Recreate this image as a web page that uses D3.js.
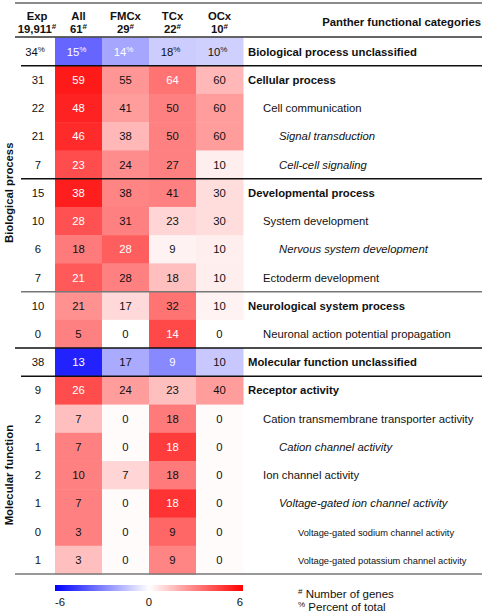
<!DOCTYPE html>
<html><head><meta charset="utf-8">
<script src="https://cdn.jsdelivr.net/npm/d3@7"></script>
<style>
html,body{margin:0;padding:0;background:#fff;}
svg{display:block;font-family:"Liberation Sans",Arial,Helvetica,sans-serif;}
</style></head>
<body>
<svg id="chart" width="484" height="612"></svg>
<script>
// ---------- data ----------
const categories = ["Biological process unclassified","Cellular process","Cell communication","Signal transduction","Cell-cell signaling","Developmental process","System development","Nervous system development","Ectoderm development","Neurological system process","Neuronal action potential propagation","Molecular function unclassified","Receptor activity","Cation transmembrane transporter activity","Cation channel activity","Ion channel activity","Voltage-gated ion channel activity","Voltage-gated sodium channel activity","Voltage-gated potassium channel activity"];
const levels = [0,0,1,2,2,0,1,2,1,0,1,0,0,1,2,1,2,3,3];
const groups = ["All","FMCx","TCx","OCx"];
const geneCounts = {Exp:"19,911", All:"61", FMCx:"29", TCx:"22", OCx:"10"};
const expPct  = [34,31,22,21,7,15,10,6,7,10,0,38,9,2,1,2,1,0,1];
const allPct  = [15,59,48,46,23,38,28,18,21,21,5,13,26,7,7,10,7,3,3];
const fmcxPct = [14,55,41,38,24,38,31,28,28,17,0,17,24,0,0,7,0,0,0];
const tcxPct  = [18,64,50,50,27,41,23,9,18,32,14,9,23,18,18,18,18,9,9];
const ocxPct  = [10,60,60,60,10,30,30,10,10,10,0,10,40,0,0,0,0,0,0];
// enrichment score shown by colour
const allScore  = [-3.6,5.4,5.2,5.0,4.2,5.3,4.1,3.1,3.9,2.6,3.0,-5.2,4.2,1.5,3.0,3.0,3.0,3.0,1.5];
const fmcxScore = [-2.1,2.5,2.3,1.7,2.7,2.9,3.0,3.8,3.0,0.9,0,-2.0,2.3,0.1,0.1,1.0,0.1,0.1,0.1];
const tcxScore  = [-1.2,3.3,3.0,3.0,3.0,3.0,1.0,0.3,1.5,3.3,4.3,-2.8,1.5,3.1,4.6,3.1,4.8,3.6,2.9];
const ocxScore  = [-1.1,1.7,2.3,2.3,0.4,0.8,0.8,0.4,0.4,0.3,0,-1.3,2.3,0.1,0.1,0.1,0.1,0.1,0.1];
// significant cells (white numbers)
const allSig  = [1,1,1,1,1,1,1,0,1,0,0,1,1,0,0,0,0,0,0];
const fmcxSig = [1,0,0,0,0,0,0,1,0,0,0,0,0,0,0,0,0,0,0];
const tcxSig  = [0,1,0,0,0,0,0,0,0,0,1,1,0,0,1,0,1,0,0];
const ocxSig  = [0,0,0,0,0,0,0,0,0,0,0,0,0,0,0,0,0,0,0];
const legendTicks = [-6,0,6];
const sectionLabels = [{name:"Biological process", from:0, to:10}, {name:"Molecular function", from:12, to:18}];

// ---------- build ----------
const pct = {All:allPct, FMCx:fmcxPct, TCx:tcxPct, OCx:ocxPct};
const score = {All:allScore, FMCx:fmcxScore, TCx:tcxScore, OCx:ocxScore};
const sig = {All:allSig, FMCx:fmcxSig, TCx:tcxSig, OCx:ocxSig};
const cells = [];
groups.forEach(g => categories.forEach((c,i) => cells.push({g, i, pct:pct[g][i], score:score[g][i], sig:sig[g][i]})));

const svg = d3.select("#chart");
const FS = 11.3;
const INK = "#111111";
const y = d3.scaleBand().domain(d3.range(categories.length)).range([37.5, 574]);
const x = d3.scaleBand().domain(groups).range([55, 243]);
const color = d3.scaleLinear().domain([-6,0,6]).range(["#0000ff","#ffffff","#ff0000"]);
const expX = 38;

// cells
svg.append("g").selectAll("rect").data(cells).join("rect")
  .attr("x", d => x(d.g)).attr("y", d => y(d.i))
  .attr("width", x.bandwidth()+0.5).attr("height", y.bandwidth()+0.5)
  .attr("fill", d => color(d.score));

// cell numbers
const ct = svg.append("g").selectAll("text").data(cells).join("text")
  .attr("x", d => x(d.g) + x.bandwidth()/2 + (d.i===0 ? -2 : 0))
  .attr("y", d => y(d.i) + y.bandwidth()/2 + 4)
  .attr("text-anchor","middle").attr("font-size", FS);
ct.append("tspan").attr("fill", d => d.sig ? "#ffffff" : INK).text(d => d.pct);
ct.filter(d => d.i===0).append("tspan").attr("fill", d => d.sig ? "#ffffff" : INK)
  .attr("font-size", 8).attr("dy", -4).text("%");

// exp column
const et = svg.append("g").selectAll("text").data(expPct).join("text")
  .attr("x", (d,i) => expX + (i===0 ? -3 : 0))
  .attr("y", (d,i) => y(i) + y.bandwidth()/2 + 4)
  .attr("text-anchor","middle").attr("font-size", FS);
et.append("tspan").attr("fill", INK).text(d => String(d));
et.filter((d,i) => i===0).append("tspan").attr("fill", INK).attr("font-size", 8).attr("dy", -4).text("%");

// category labels
const indent = [248, 263, 279, 298];
svg.append("g").selectAll("text").data(categories).join("text")
  .attr("x", (d,i) => indent[levels[i]])
  .attr("y", (d,i) => y(i) + y.bandwidth()/2 + 4)
  .attr("font-size", (d,i) => levels[i]===3 ? 9.3 : FS)
  .attr("font-weight", (d,i) => levels[i]===0 ? "bold" : "normal")
  .attr("font-style", (d,i) => levels[i]===2 ? "italic" : "normal")
  .attr("fill", INK)
  .text(d => d);

// headers
const headers = [{k:"Exp", cx:expX - 1}].concat(groups.map(g => ({k:g, cx:x(g)+x.bandwidth()/2})));
const hg = svg.append("g").attr("font-weight","bold").attr("font-size", FS).attr("fill", INK);
hg.selectAll("text.h1").data(headers).join("text").attr("class","h1")
  .attr("x", d => d.cx).attr("y", 20).attr("text-anchor","middle").text(d => d.k);
const h2 = hg.selectAll("text.h2").data(headers).join("text").attr("class","h2")
  .attr("x", d => d.cx).attr("y", 33).attr("text-anchor","middle");
h2.append("tspan").text(d => geneCounts[d.k]);
h2.append("tspan").attr("font-size", 8).attr("dy", -4).text("#");
hg.append("text").attr("x", 481).attr("y", 26).attr("text-anchor","end").text("Panther functional categories");

// section labels (rotated)
svg.append("g").selectAll("text").data(sectionLabels).join("text")
  .attr("transform", d => `translate(13,${(y(d.from) + y(d.to) + y.bandwidth())/2}) rotate(-90)`)
  .attr("text-anchor","middle").attr("font-weight","bold").attr("font-size", FS).attr("fill", INK)
  .text(d => d.name);

// rules
const rules = [
  {yy:3, x0:15, c:"#666"},
  {yy:37, x0:15, c:"#333"},
  {yy:y(1), x0:21, c:"#111"},
  {yy:y(5), x0:21, c:"#111"},
  {yy:y(9), x0:21, c:"#777"},
  {yy:y(11), x0:15, c:"#111"},
  {yy:y(12), x0:21, c:"#111"},
  {yy:574, x0:15, c:"#777"}
];
svg.append("g").selectAll("line").data(rules).join("line")
  .attr("x1", d => d.x0).attr("x2", 482)
  .attr("y1", d => d.yy).attr("y2", d => d.yy)
  .attr("stroke", d => d.c).attr("stroke-width", 1.5);

// legend
const lx = d3.scaleLinear().domain([-6,6]).range([55,243]);
const defs = svg.append("defs");
const grad = defs.append("linearGradient").attr("id","lg");
d3.range(-6, 6.01, 1).forEach(v => grad.append("stop").attr("offset", (v+6)/12).attr("stop-color", color(v)));
svg.append("rect").attr("x", lx(-6)).attr("y", 585).attr("width", lx(6)-lx(-6)).attr("height", 6).attr("fill","url(#lg)");
svg.append("g").selectAll("text").data(legendTicks).join("text")
  .attr("x", d => lx(d)).attr("y", 606)
  .attr("text-anchor", (d,i) => i===0 ? "start" : (i===legendTicks.length-1 ? "end" : "middle"))
  .attr("font-size", FS).attr("fill", INK).text(d => d);

// footnotes
const notes = [{s:"#", t:"Number of genes"}, {s:"%", t:"Percent of total"}];
const nt = svg.append("g").selectAll("text").data(notes).join("text")
  .attr("x", 298).attr("y", (d,i) => 598 + i*12.5).attr("font-size", 11.5).attr("fill", INK);
nt.append("tspan").attr("font-size", 8).attr("dy", -4).text(d => d.s);
nt.append("tspan").attr("dy", 4).text(d => " " + d.t);
</script>
</body></html>
